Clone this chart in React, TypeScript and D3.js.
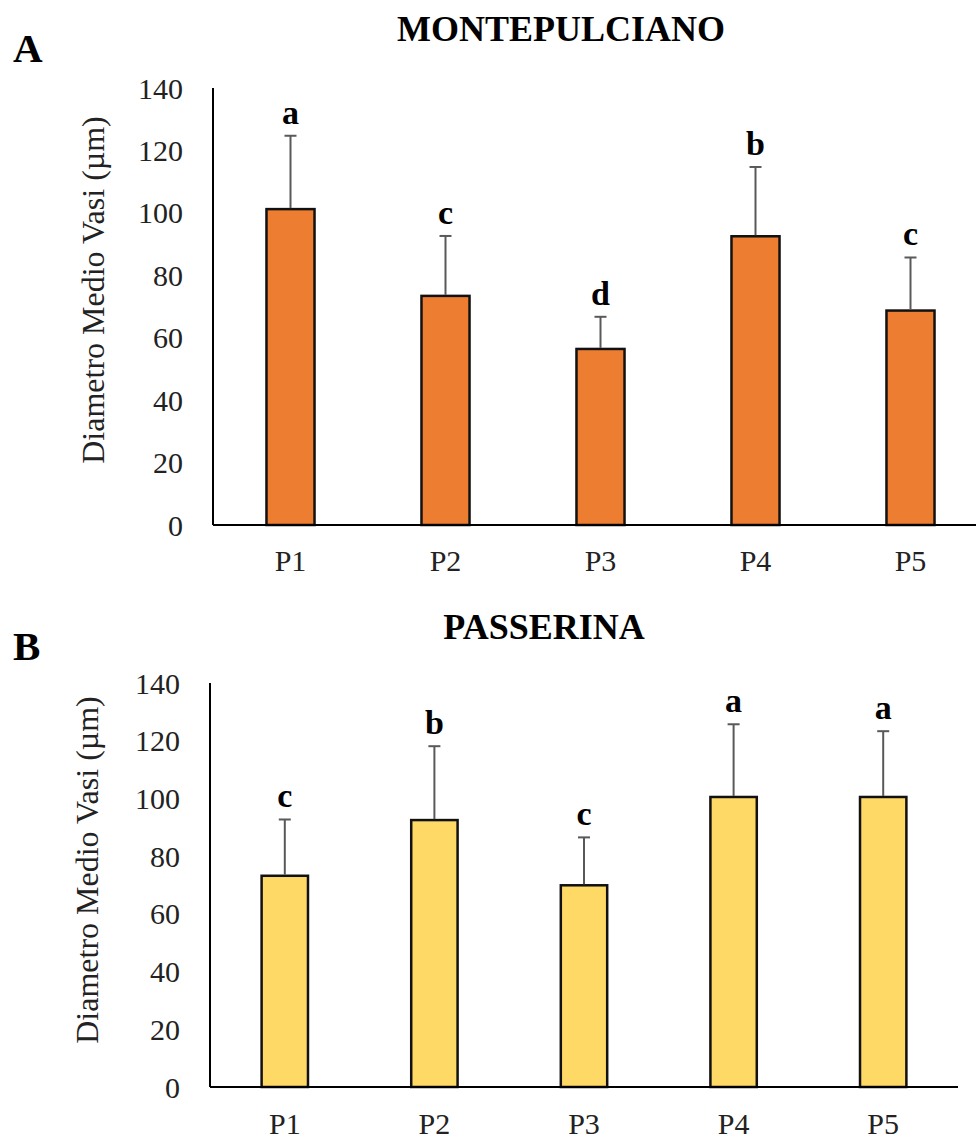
import React, { useEffect, useRef } from "react";
import * as d3 from "d3";

const categories = ["P1", "P2", "P3", "P4", "P5"];
const yTicks = [0, 20, 40, 60, 80, 100, 120, 140];

const montMeans = [101.2, 73.4, 56.4, 92.5, 68.7];
const montErrors = [23.5, 19.2, 10.3, 22.2, 17.0];
const montLetters = ["a", "c", "d", "b", "c"];

const passMeans = [73.2, 92.5, 69.9, 100.5, 100.5];
const passErrors = [19.5, 25.6, 16.6, 25.2, 22.8];
const passLetters = ["c", "b", "c", "a", "a"];

const FONT = "'Liberation Serif', 'Times New Roman', serif";

const drawPanel = (
  root: d3.Selection<SVGSVGElement, unknown, null, undefined>,
  opts: {
    letter: string;
    title: string;
    titleX: number;
    titleY: number;
    axisX: number;
    axisEnd: number;
    top: number;
    base: number;
    labelX: number;
    labelY: number;
    catY: number;
    means: number[];
    errors: number[];
    letters: string[];
    fill: string;
  }
) => {
  const g = root.append("g");

  g.append("text")
    .attr("x", 13)
    .attr("y", opts.titleY + 21)
    .attr("font-family", FONT)
    .attr("font-weight", "bold")
    .attr("font-size", "41px")
    .text(opts.letter);

  g.append("text")
    .attr("x", opts.titleX)
    .attr("y", opts.titleY)
    .attr("text-anchor", "middle")
    .attr("font-family", FONT)
    .attr("font-weight", "bold")
    .attr("font-size", "36px")
    .text(opts.title);

  const x = d3.scaleBand<string>()
    .domain(categories)
    .range([opts.axisX, opts.axisEnd])
    .paddingInner(0.69)
    .paddingOuter(0.345);

  const y = d3.scaleLinear()
    .domain([0, 140])
    .range([opts.base, opts.top]);

  // y tick labels
  g.selectAll("text.ytick")
    .data(yTicks)
    .enter()
    .append("text")
    .attr("class", "ytick")
    .attr("x", opts.axisX - 30)
    .attr("y", d => y(d))
    .attr("dy", "0.35em")
    .attr("text-anchor", "end")
    .attr("font-family", FONT)
    .attr("font-size", "30px")
    .attr("fill", "#222")
    .text(d => d);

  // y label
  g.append("text")
    .attr("transform", `translate(${opts.labelX},${opts.labelY}) rotate(-90)`)
    .attr("text-anchor", "middle")
    .attr("font-family", FONT)
    .attr("font-size", "32px")
    .attr("fill", "#222")
    .text("Diametro Medio Vasi (µm)");

  // bars
  g.selectAll("rect")
    .data(opts.means)
    .enter()
    .append("rect")
    .attr("x", (_, i) => x(categories[i]) || 0)
    .attr("y", d => y(d))
    .attr("width", x.bandwidth())
    .attr("height", d => y(0) - y(d))
    .attr("fill", opts.fill)
    .attr("stroke", "#111")
    .attr("stroke-width", 2.5);

  // error bars
  const cx = (i: number) => (x(categories[i]) || 0) + x.bandwidth() / 2;
  g.selectAll("line.err")
    .data(opts.means)
    .enter()
    .append("line")
    .attr("class", "err")
    .attr("x1", (_, i) => cx(i))
    .attr("x2", (_, i) => cx(i))
    .attr("y1", d => y(d) - 1)
    .attr("y2", (d, i) => y(d + opts.errors[i]))
    .attr("stroke", "#595959")
    .attr("stroke-width", 2);

  g.selectAll("line.cap")
    .data(opts.means)
    .enter()
    .append("line")
    .attr("class", "cap")
    .attr("x1", (_, i) => cx(i) - 6)
    .attr("x2", (_, i) => cx(i) + 6)
    .attr("y1", (d, i) => y(d + opts.errors[i]))
    .attr("y2", (d, i) => y(d + opts.errors[i]))
    .attr("stroke", "#595959")
    .attr("stroke-width", 2);

  // significance letters
  g.selectAll("text.sig")
    .data(opts.means)
    .enter()
    .append("text")
    .attr("class", "sig")
    .attr("x", (_, i) => cx(i))
    .attr("y", (d, i) => y(d + opts.errors[i]) - 12)
    .attr("text-anchor", "middle")
    .attr("font-family", FONT)
    .attr("font-weight", "bold")
    .attr("font-size", "34px")
    .text((_, i) => opts.letters[i]);

  // axes
  g.append("line")
    .attr("x1", opts.axisX)
    .attr("x2", opts.axisX)
    .attr("y1", opts.top)
    .attr("y2", opts.base)
    .attr("stroke", "#000")
    .attr("stroke-width", 2);

  g.append("line")
    .attr("x1", opts.axisX)
    .attr("x2", opts.axisEnd)
    .attr("y1", opts.base)
    .attr("y2", opts.base)
    .attr("stroke", "#000")
    .attr("stroke-width", 2);

  g.selectAll("text.xtick")
    .data(categories)
    .enter()
    .append("text")
    .attr("class", "xtick")
    .attr("x", d => (x(d) || 0) + x.bandwidth() / 2)
    .attr("y", opts.catY)
    .attr("text-anchor", "middle")
    .attr("font-family", FONT)
    .attr("font-size", "30px")
    .attr("fill", "#222")
    .text(d => d);
};

export default function App() {
  const ref = useRef<SVGSVGElement>(null);

  useEffect(() => {
    if (!ref.current) return;
    const svg = d3.select(ref.current);
    svg.selectAll("*").remove();

    drawPanel(svg, {
      letter: "A",
      title: "MONTEPULCIANO",
      titleX: 561,
      titleY: 41,
      axisX: 213,
      axisEnd: 988,
      top: 88,
      base: 525,
      labelX: 104,
      labelY: 290,
      catY: 571,
      means: montMeans,
      errors: montErrors,
      letters: montLetters,
      fill: "#ED7D31",
    });

    drawPanel(svg, {
      letter: "B",
      title: "PASSERINA",
      titleX: 544,
      titleY: 639,
      axisX: 210,
      axisEnd: 958,
      top: 683,
      base: 1087,
      labelX: 98,
      labelY: 870,
      catY: 1134,
      means: passMeans,
      errors: passErrors,
      letters: passLetters,
      fill: "#FFD966",
    });
  }, []);

  return (
    <svg
      ref={ref}
      width={976}
      height={1139}
      style={{ position: "absolute", left: 0, top: 0, background: "#fff" }}
    />
  );
}
